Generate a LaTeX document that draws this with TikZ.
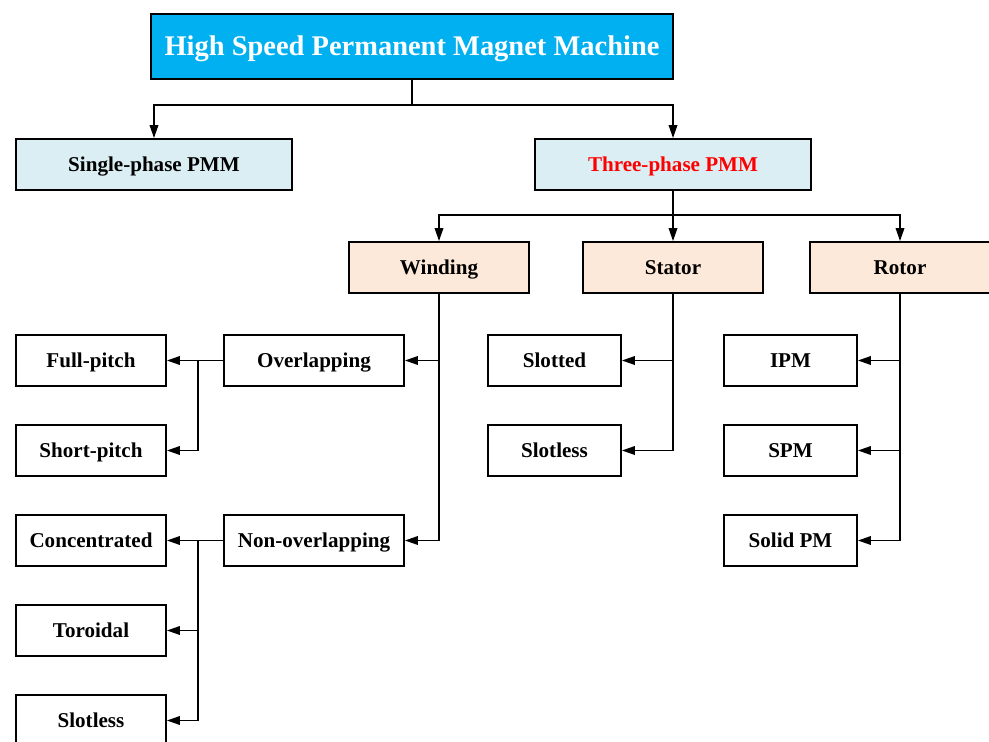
\documentclass[tikz,border=0pt]{standalone}
\usepackage{fontspec}
\setmainfont{Liberation Serif}
\usepackage{xcolor}
\usepackage{tikz}
\usetikzlibrary{arrows.meta}

\definecolor{topblue}{HTML}{00B0F0}
\definecolor{phaseblue}{HTML}{DAEEF3}
\definecolor{partpeach}{HTML}{FDE9D9}

\begin{document}
\begin{tikzpicture}[x=0.02cm,y=-0.02cm,line width=1pt,
      box/.style={draw,rectangle,font=\bfseries\fontsize{12}{14}\selectfont,
        minimum height=1.02cm,inner sep=0pt,text height=10pt,text depth=2pt},
      leaf/.style={box,minimum width=3cm},
      sub/.style={box,minimum width=3.6cm},
      part/.style={box,fill=partpeach,minimum width=3.6cm},
      phase/.style={box,fill=phaseblue,minimum width=5.52cm},
      typ/.style={box,minimum width=2.66cm},
      arr/.style={draw,-{Triangle[length=2.6mm,width=1.7mm]}}] % HS-PMM classification
      \useasboundingbox (0,0) rectangle (989,742);
      \node[box,fill=topblue,text=white,minimum width=10.44cm,minimum height=1.3cm,
        text height=13pt,text depth=2.4pt,
        font=\bfseries\fontsize{16.2}{19}\selectfont] (hspmm) at (412,46.5)
        {High Speed Permanent Magnet Machine};
      \node[phase] (single) at (154,164.5) {Single-phase PMM};
      \node[phase,text=red] (three) at (673,164.5) {Three-phase PMM};
      \node[part] (winding) at (439,267.5) {Winding};
      \node[part] (stator) at (673,267.5) {Stator};
      \node[part] (rotor) at (900,267.5) {Rotor};
      % winding types
      \node[sub] (over) at (314,360.5) {Overlapping};
      \node[sub] (nonover) at (314,540.5) {Non-overlapping};
      \node[leaf] (full) at (91,360.5) {Full-pitch};
      \node[leaf] (short) at (91,450.5) {Short-pitch};
      \node[leaf] (conc) at (91,540.5) {Concentrated};
      \node[leaf] (toro) at (91,630.5) {Toroidal};
      \node[leaf] (wslotless) at (91,720.5) {Slotless};
      % stator and rotor types
      \node[typ] (slotted) at (554.5,360.5) {Slotted};
      \node[typ] (sslotless) at (554.5,450.5) {Slotless};
      \node[typ] (ipm) at (790.5,360.5) {IPM};
      \node[typ] (spm) at (790.5,450.5) {SPM};
      \node[typ] (solid) at (790.5,540.5) {Solid PM};

      \draw[arr] (hspmm.south) -- ++(0,25) -| (single.north);
      \draw[arr] (hspmm.south) -- ++(0,25) -| (three.north);
      \draw[arr] (three.south) -- ++(0,24) -| (winding.north);
      \draw[arr] (three.south) -- (stator.north);
      \draw[arr] (three.south) -- ++(0,24) -| (rotor.north);

      \draw[arr] (winding.south) |- (over.east);
      \draw[arr] (winding.south) |- (nonover.east);
      \draw[arr] (over.west) -- (full.east);
      \draw (over.west) -- ++(-25,0) coordinate (jover);
      \draw[arr] (jover) |- (short.east);
      \draw[arr] (nonover.west) -- (conc.east);
      \draw (nonover.west) -- ++(-25,0) coordinate (jnon);
      \draw[arr] (jnon) |- (toro.east);
      \draw[arr] (jnon) |- (wslotless.east);

      \draw[arr] (stator.south) |- (slotted.east);
      \draw[arr] (stator.south) |- (sslotless.east);
      \draw[arr] (rotor.south) |- (ipm.east);
      \draw[arr] (rotor.south) |- (spm.east);
      \draw[arr] (rotor.south) |- (solid.east);
    \end{tikzpicture}
\end{document}
